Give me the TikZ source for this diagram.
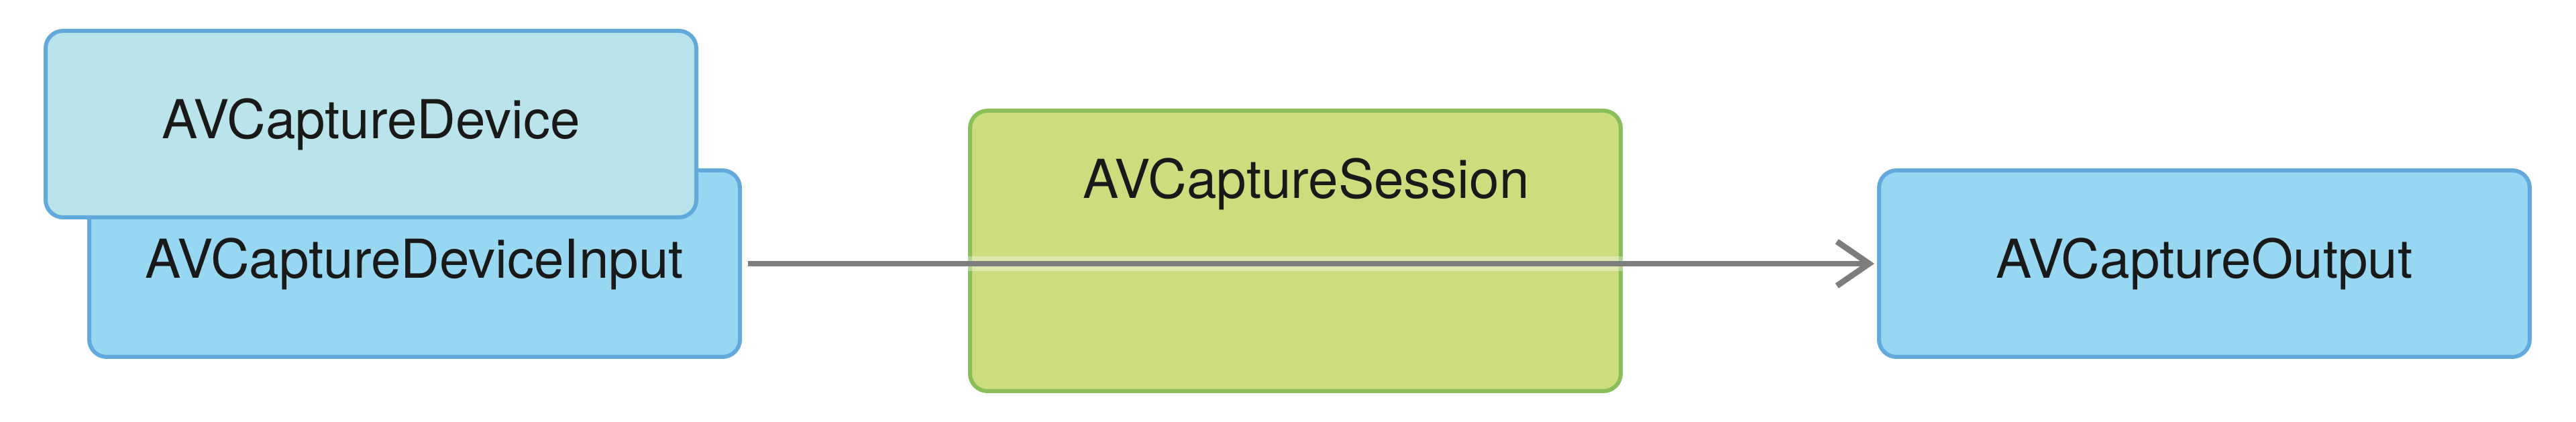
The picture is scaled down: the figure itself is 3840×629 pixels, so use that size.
\documentclass[tikz,border=0pt]{standalone}
\usepackage{fontspec}
\setmainfont{TeX Gyre Heros}
\usepackage{tikz}
\usetikzlibrary{arrows.meta,calc}

\definecolor{devfill}{RGB}{185,228,235}
\definecolor{blufill}{RGB}{151,215,242}
\definecolor{bluline}{RGB}{98,170,219}
\definecolor{sesfill}{RGB}{203,221,125}
\definecolor{sesline}{RGB}{138,190,88}
\definecolor{flowgray}{RGB}{125,125,128}

\begin{document}
\begin{tikzpicture}[x=0.25pt,y=0.25pt,yscale=-1,xscale=1,
  box/.style={draw=bluline,line width=1.5pt,rounded corners=6.5pt,minimum width=242.5pt,minimum height=69.5pt,inner sep=0pt},
  devbox/.style={box,fill=devfill},
  bluebox/.style={box,fill=blufill},
  sesbox/.style={box,draw=sesline,fill=sesfill,minimum height=104.5pt},
  lbl/.style={inner sep=0.75pt,text=black!90,font=\fontsize{20}{24}\selectfont},
  flow/.style={draw=flowgray,line width=2.2pt,-{Straight Barb[length=12pt,width=16.5pt,line width=2.2pt]}}]
\useasboundingbox (0,0) rectangle (3840,629);

%Shape: Rectangle [id:input]
\node [bluebox] (input) at (618,393) {};
%Shape: Rectangle [id:device]
\node [devbox] (device) at (553,185) {};
%Shape: Rectangle [id:session]
\node [sesbox] (session) at (1931,374) {};
%Shape: Rectangle [id:output]
\node [bluebox] (output) at (3286,393) {};

% Text Node
\node [lbl] (devicelbl) at (device.center) {AVCaptureDevice};
% Text Node
\node [lbl] (inputlbl) at (input.center) {AVCaptureDeviceInput};
% Text Node
\node [lbl] (sessionlbl) at (1947,274) {AVCaptureSession};
% Text Node
\node [lbl] (outputlbl) at (output.center) {AVCaptureOutput};

%Straight Lines [id:flow]
\draw [white,opacity=0.35,line width=5.5pt,shorten <=2.25pt,shorten >=14pt] (input.east) -- (output.west) ;
\draw [flow,shorten <=2.25pt,shorten >=1pt] (input.east) -- (output.west) ;

\end{tikzpicture}
\end{document}
